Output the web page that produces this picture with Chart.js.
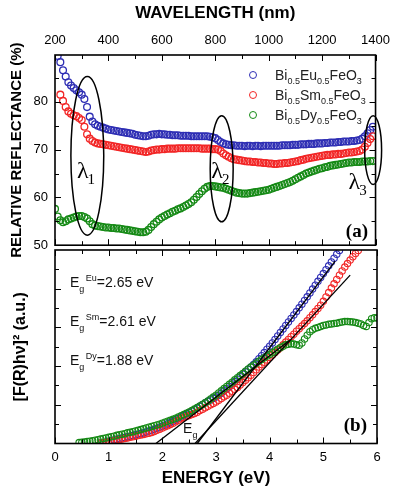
<!DOCTYPE html>
<html><head><meta charset="utf-8">
<script src="https://cdn.jsdelivr.net/npm/chart.js@4.4.1/dist/chart.umd.min.js"></script>
<style>
html,body{margin:0;padding:0;background:#fff;width:397px;height:492px;overflow:hidden;}
#ca{position:absolute;left:0;top:0;}
#cb{position:absolute;left:0;top:240px;}
</style></head><body>
<canvas id="ca" width="397" height="260"></canvas>
<canvas id="cb" width="397" height="252"></canvas>
<script>
// ---------- DATA: panel (a) reflectance vs wavelength ----------
const wavelengths = [
 200,210,220,230,240,250,260,270,280,290,
 300,310,320,330,340,350,360,370,380,390,
 400,410,420,430,440,450,460,470,480,490,
 500,510,520,530,540,550,560,570,580,590,
 600,610,620,630,640,650,660,670,680,690,
 700,710,720,730,740,750,760,770,780,790,
 800,810,820,830,840,850,860,870,880,890,
 900,910,920,930,940,950,960,970,980,990,
 1000,1010,1020,1030,1040,1050,1060,1070,1080,1090,
 1100,1110,1120,1130,1140,1150,1160,1170,1180,1190,
 1200,1210,1220,1230,1240,1250,1260,1270,1280,1290,
 1300,1310,1320,1330,1340,1350,1360,1370,1380,1390];
const reflEu = [
 null,89.6,88.3,86.6,85.3,84.1,83.4,82.9,82.4,82.0,
 81.5,80.6,78.9,76.9,75.9,75.3,75.0,74.8,74.6,74.4,
 74.2,74.1,74.0,73.9,73.8,73.7,73.6,73.5,73.4,73.3,
 73.1,73.0,72.9,72.8,72.8,72.9,73.1,73.2,73.2,73.3,
 73.2,73.2,73.1,73.1,73.0,73.0,73.0,72.9,72.9,72.9,
 72.9,72.8,72.8,72.8,72.8,72.8,72.8,72.8,72.7,72.6,
 72.4,72.0,71.6,71.3,71.1,71.0,70.9,70.9,70.8,70.8,
 70.8,70.7,70.8,70.8,70.7,70.8,70.8,70.7,70.8,70.8,
 70.8,70.8,70.8,70.8,70.8,70.9,70.9,70.9,70.9,71.0,
 71.0,71.0,71.1,71.1,71.1,71.2,71.2,71.2,71.3,71.3,
 71.3,71.4,71.4,71.5,71.5,71.5,71.6,71.6,71.7,71.7,
 71.7,71.8,71.8,71.9,72.0,72.3,72.8,73.4,74.1,74.8];
const reflSm = [
 null,null,81.5,80.2,78.9,78.0,77.5,77.2,77.0,76.6,
 76.2,74.8,73.2,72.3,71.8,71.5,71.3,71.2,71.1,71.0,
 70.9,70.8,70.7,70.6,70.5,70.4,70.3,70.2,70.1,70.0,
 69.9,69.8,69.7,69.6,69.5,69.6,69.8,69.9,70.0,70.0,
 70.1,70.1,70.2,70.2,70.2,70.2,70.3,70.3,70.3,70.3,
 70.3,70.3,70.3,70.3,70.3,70.2,70.2,70.2,70.2,70.1,
 70.1,70.0,69.7,69.2,68.8,68.5,68.2,68.0,67.9,67.8,
 67.7,67.6,67.5,67.5,67.4,67.4,67.3,67.3,67.2,67.2,
 67.1,67.1,67.0,67.0,67.1,67.1,67.2,67.2,67.3,67.4,
 67.5,67.6,67.8,67.9,68.1,68.2,68.3,68.4,68.5,68.6,
 68.7,68.8,68.9,68.9,69.0,69.0,69.1,69.1,69.2,69.3,
 69.4,69.4,69.5,69.6,69.7,70.0,70.6,71.4,72.2,72.8];
const reflDy = [
 57.6,56.0,55.2,54.8,55.0,55.4,55.6,55.8,56.0,56.1,
 56.1,55.9,55.6,55.0,54.4,54.1,54.0,53.9,53.8,53.7,
 53.7,53.6,53.6,53.5,53.5,53.4,53.3,53.2,53.1,53.0,
 52.9,52.8,52.7,52.7,52.8,53.2,53.8,54.4,54.9,55.4,
 55.8,56.1,56.4,56.7,57.0,57.2,57.5,57.7,58.0,58.3,
 58.6,59.0,59.5,60.1,60.7,61.3,61.8,62.2,62.4,62.4,
 62.3,62.2,62.1,62.0,61.8,61.6,61.4,61.2,61.0,60.9,
 60.8,60.8,60.8,60.9,61.0,61.1,61.2,61.3,61.4,61.5,
 61.6,61.8,62.0,62.2,62.4,62.6,62.8,63.0,63.2,63.5,
 63.8,64.1,64.4,64.7,65.0,65.2,65.4,65.6,65.8,66.0,
 66.1,66.3,66.4,66.6,66.7,66.8,66.9,67.0,67.1,67.2,
 67.3,67.3,67.4,67.4,67.4,67.5,67.5,67.5,67.6,67.6];
const wlTicks = [200,400,600,800,1000,1200,1400];
const wlMinorTicks = [300,500,700,900,1100,1300];
const reflTicks = [50,60,70,80];
const reflMinorTicks = [55,65,75,85];

// ---------- DATA: panel (b) [F(R)hv]^2 vs energy ----------
const energies = [
 0.45,0.50,0.55,0.60,0.65,0.70,0.75,0.80,0.85,0.90,
 0.95,1.00,1.05,1.10,1.15,1.20,1.25,1.30,1.35,1.40,
 1.45,1.50,1.55,1.60,1.65,1.70,1.75,1.80,1.85,1.90,
 1.95,2.00,2.05,2.10,2.15,2.20,2.25,2.30,2.35,2.40,
 2.45,2.50,2.55,2.60,2.65,2.70,2.75,2.80,2.85,2.90,
 2.95,3.00,3.05,3.10,3.15,3.20,3.25,3.30,3.35,3.40,
 3.45,3.50,3.55,3.60,3.65,3.70,3.75,3.80,3.85,3.90,
 3.95,4.00,4.05,4.10,4.15,4.20,4.25,4.30,4.35,4.40,
 4.45,4.50,4.55,4.60,4.65,4.70,4.75,4.80,4.85,4.90,
 4.95,5.00,5.05,5.10,5.15,5.20,5.25,5.30,5.35,5.40,
 5.45,5.50,5.55,5.60,5.65,5.70,5.75,5.80,5.85,5.90,
 5.95,6.00];
const kmDy = [
 0.05,0.06,0.08,0.10,0.12,0.14,0.17,0.20,0.23,0.26,
 0.29,0.32,0.35,0.38,0.42,0.45,0.48,0.51,0.55,0.58,
 0.61,0.65,0.68,0.72,0.76,0.80,0.84,0.88,0.92,0.96,
 1.00,1.05,1.10,1.15,1.20,1.25,1.31,1.37,1.43,1.50,
 1.56,1.63,1.70,1.78,1.86,1.94,2.02,2.10,2.20,2.30,
 2.40,2.50,2.61,2.72,2.84,2.95,3.06,3.17,3.29,3.40,
 3.51,3.62,3.74,3.85,3.95,4.05,4.15,4.25,4.34,4.43,
 4.52,4.60,4.69,4.78,4.87,4.95,5.03,5.10,5.13,5.15,
 5.14,5.10,5.08,5.20,5.40,5.60,5.78,5.88,5.95,6.00,
 6.05,6.10,6.13,6.16,6.18,6.20,6.22,6.25,6.28,6.30,
 6.30,6.29,6.28,6.25,6.22,6.18,6.10,6.05,6.25,6.45,
 6.50,6.48];
const kmSm = [
 null,null,null,null,null,null,null,null,0.02,0.04,
 0.06,0.08,0.11,0.14,0.17,0.20,0.23,0.26,0.29,0.32,
 0.35,0.38,0.41,0.44,0.47,0.50,0.53,0.57,0.62,0.68,
 0.74,0.80,0.86,0.92,0.98,1.05,1.12,1.20,1.28,1.35,
 1.40,1.45,1.50,1.55,1.62,1.70,1.77,1.85,1.92,2.00,
 2.07,2.15,2.23,2.32,2.41,2.50,2.60,2.70,2.80,2.90,
 3.02,3.15,3.27,3.40,3.53,3.67,3.81,3.95,4.08,4.20,
 4.32,4.45,4.58,4.70,4.83,4.95,5.10,5.24,5.38,5.52,
 5.65,5.80,5.93,6.07,6.20,6.34,6.50,6.65,6.82,6.98,
 7.15,7.35,7.57,7.80,8.03,8.25,8.48,8.70,8.92,9.12,
 9.30,9.48,9.65,9.82,9.98,null,null,null,null,null,
 null,null];
const kmEu = [
 null,null,null,null,null,null,null,null,0.03,0.05,
 0.08,0.12,0.15,0.18,0.22,0.25,0.28,0.31,0.35,0.38,
 0.41,0.45,0.48,0.52,0.56,0.60,0.64,0.68,0.73,0.79,
 0.84,0.90,0.96,1.02,1.08,1.15,1.22,1.30,1.37,1.45,
 1.52,1.60,1.67,1.75,1.83,1.92,2.01,2.10,2.18,2.25,
 2.33,2.40,2.50,2.60,2.72,2.83,2.95,3.08,3.20,3.32,
 3.45,3.58,3.70,3.83,3.95,4.08,4.22,4.38,4.54,4.70,
 4.87,5.03,5.20,5.38,5.56,5.74,5.92,6.10,6.28,6.46,
 6.64,6.82,7.01,7.20,7.39,7.58,7.78,7.98,8.18,8.38,
 8.58,8.78,8.98,9.18,9.38,9.58,9.78,9.98,null,null,
 null,null,null,null,null,null,null,null,null,null,
 null,null];
// tangent (Tauc) fit lines: end points
const fitEnergyEu = [2.65, 5.22], fitValueEu = [0, 9.43];
const fitEnergySm = [2.61, 5.50], fitValueSm = [0, 8.70];
const fitEnergyDy = [1.88, 4.38], fitValueDy = [0, 5.35];
const bandGapNames = ['Eu','Sm','Dy'];
const bandGapValues = ['2.65','2.61','1.88'];
const energyTicks = [0,1,2,3,4,5,6];
const energyMinorTicks = [0.5,1.5,2.5,3.5,4.5,5.5];
const kmTicks = [2,4,6,8];
const kmMinorTicks = [1,3,5,7,9];
const seriesNames = ['Bi0.5Eu0.5FeO3','Bi0.5Sm0.5FeO3','Bi0.5Dy0.5FeO3'];

// ---------- STYLE ----------
const SANS = '"Liberation Sans", Arial, sans-serif';
const SERIF = '"Liberation Serif", "Times New Roman", serif';
const COL = {eu:'#2e2eb4', sm:'#f22626', dy:'#168a16'};
// ellipses: centre (wavelength, reflectance) and half-axes in data units
const ellipses = [
  {wl:321, r:68.7, dw:61.5, dr:16.6, sub:'1', lw:282, lr:64.0},
  {wl:824, r:66.0, dw:43,   dr:11.1, sub:'2', lw:785, lr:64.0},
  {wl:1391,r:69.9, dw:31.7, dr:7.2,  sub:'3', lw:1299,lr:61.7}
];

function pts(xs, ys){ const o=[]; xs.forEach((x,i)=>{ if(ys[i]!==null) o.push({x:x,y:ys[i]}); }); return o; }
function scatterDs(label, data, color, order, r, bw){
  return {label, data, borderColor:color, backgroundColor:'rgba(0,0,0,0)', pointRadius:r, pointBorderWidth:bw, pointStyle:'circle', order};
}
function drawTicks(chart, xMaj, xMin, yMaj, yMin){
  const ctx = chart.ctx, a = chart.chartArea, xs = chart.scales.x, ys = chart.scales.y;
  ctx.save();
  ctx.strokeStyle = '#000'; ctx.lineWidth = 1;
  ctx.beginPath();
  const vx = (v, L) => { const p = Math.round(xs.getPixelForValue(v)) + 0.5; ctx.moveTo(p, a.top); ctx.lineTo(p, a.top + L); ctx.moveTo(p, a.bottom); ctx.lineTo(p, a.bottom - L); };
  const vy = (v, L) => { const p = Math.round(ys.getPixelForValue(v)) + 0.5; ctx.moveTo(a.left, p); ctx.lineTo(a.left + L, p); ctx.moveTo(a.right, p); ctx.lineTo(a.right - L, p); };
  xMaj.forEach(v => vx(v, 6)); xMin.forEach(v => vx(v, 4));
  yMaj.forEach(v => vy(v, 6)); yMin.forEach(v => vy(v, 4));
  ctx.stroke();
  ctx.lineWidth = 1.6;
  ctx.strokeRect(a.left, a.top, a.right - a.left, a.bottom - a.top);
  ctx.restore();
}
function rich(ctx, parts, x, y, mainPx, subPx){
  let cx = x;
  parts.forEach(([t, m]) => {
    ctx.font = (m === 0 ? mainPx : subPx) + 'px ' + SANS;
    const dy = m === 1 ? 4 : (m === 2 ? -6 : 0);
    ctx.fillText(t, cx, y + dy);
    cx += ctx.measureText(t).width;
  });
}
function formulaParts(name){
  const out = []; const re = /([A-Za-z]+)|([0-9.]+)/g; let m;
  while ((m = re.exec(name))) out.push(m[1] ? [m[1],0] : [m[2],1]);
  return out;
}

const decoA = {
  id:'decoA',
  afterDraw(chart){
    const ctx = chart.ctx, xs = chart.scales.x, ys = chart.scales.y;
    drawTicks(chart, wlTicks, wlMinorTicks, reflTicks, reflMinorTicks);
    ctx.save();
    ctx.strokeStyle = '#000'; ctx.lineWidth = 1.5;
    ellipses.forEach(e => {
      const cx = xs.getPixelForValue(e.wl), cy = ys.getPixelForValue(e.r);
      const rx = Math.abs(xs.getPixelForValue(e.wl + e.dw) - cx), ry = Math.abs(ys.getPixelForValue(e.r + e.dr) - cy);
      ctx.beginPath(); ctx.ellipse(cx, cy, rx, ry, 0, 0, Math.PI*2); ctx.stroke();
      const lx = xs.getPixelForValue(e.lw), ly = ys.getPixelForValue(e.lr);
      ctx.fillStyle = '#000'; ctx.textBaseline = 'alphabetic'; ctx.textAlign = 'left';
      ctx.font = '24px ' + SERIF; ctx.fillText('\u03bb', lx, ly);
      const w = ctx.measureText('\u03bb').width;
      ctx.font = '15px ' + SERIF; ctx.fillText(e.sub, lx + w - 1, ly + 6);
    });
    const cols = [COL.eu, COL.sm, COL.dy];
    seriesNames.forEach((n, i) => {
      const y = 75 + i * 20;
      ctx.strokeStyle = cols[i]; ctx.lineWidth = 1;
      ctx.beginPath(); ctx.arc(253, y, 3.5, 0, Math.PI*2); ctx.stroke();
      ctx.fillStyle = '#222'; ctx.textAlign = 'left'; ctx.textBaseline = 'alphabetic';
      rich(ctx, formulaParts(n), 275, y + 5, 14, 9);
    });
    ctx.fillStyle = '#000'; ctx.textAlign = 'right';
    ctx.font = 'bold 19px ' + SERIF; ctx.fillText('(a)', 368, 237);
    ctx.restore();
  }
};
const OFF = 240; // page y of canvas b
const decoB = {
  id:'decoB',
  afterDraw(chart){
    const ctx = chart.ctx;
    drawTicks(chart, energyTicks, energyMinorTicks, kmTicks, kmMinorTicks);
    ctx.save();
    ctx.fillStyle = '#111'; ctx.textAlign = 'left'; ctx.textBaseline = 'alphabetic';
    bandGapNames.forEach((n, i) => {
      const y = 287 + i * 39 - OFF;
      let x = 70;
      ctx.font = '14px ' + SANS; ctx.fillText('E', x, y); x += ctx.measureText('E').width;
      ctx.font = '9px ' + SANS; ctx.fillText('g', x, y + 5); x += ctx.measureText('g').width + 1.5;
      ctx.fillText(n, x, y - 6); x += ctx.measureText(n).width;
      ctx.font = '14px ' + SANS; ctx.fillText('=' + bandGapValues[i] + ' eV', x, y);
    });
    ctx.font = '14px ' + SANS; ctx.fillText('E', 183, 433 - OFF);
    ctx.font = '9px ' + SANS; ctx.fillText('g', 192.5, 438 - OFF);
    ctx.fillStyle = '#000'; ctx.textAlign = 'right';
    ctx.font = 'bold 19px ' + SERIF; ctx.fillText('(b)', 367, 431 - OFF);
    ctx.restore();
  }
};

const tickFont = {family:SANS, size:13};
new Chart(document.getElementById('ca'), {
  type:'scatter',
  data:{datasets:[
    scatterDs('Eu', pts(wavelengths, reflEu), COL.eu, 3, 3.4, 1.3),
    scatterDs('Sm', pts(wavelengths, reflSm), COL.sm, 2, 3.4, 1.3),
    scatterDs('Dy', pts(wavelengths, reflDy), COL.dy, 1, 3.4, 1.3)
  ]},
  options:{
    responsive:false, animation:false, events:[],
    layout:{padding:{left:0, right:20, top:0, bottom:10}},
    plugins:{legend:{display:false}, tooltip:{enabled:false}},
    scales:{
      x:{type:'linear', position:'top', min:200, max:1400,
         afterBuildTicks:s=>{ s.ticks = wlTicks.map(v=>({value:v})); },
         afterFit:s=>{ s.height = 55; },
         grid:{display:false, drawTicks:false}, border:{display:false},
         ticks:{color:'#000', font:tickFont, padding:7, maxRotation:0, autoSkip:false, callback:v=>String(v)},
         title:{display:true, text:'WAVELENGTH (nm)', color:'#000', font:{family:SANS, size:17, weight:'bold'}, padding:{top:3, bottom:0}}},
      y:{type:'linear', position:'left', min:50, max:89.8,
         afterBuildTicks:s=>{ s.ticks = reflTicks.map(v=>({value:v})); },
         afterFit:s=>{ s.width = 55; },
         grid:{display:false, drawTicks:false}, border:{display:false},
         ticks:{color:'#000', font:tickFont, padding:7, callback:v=>String(v)},
         title:{display:true, text:'RELATIVE REFLECTANCE (%)', color:'#000', font:{family:SANS, size:15, weight:'bold'}, padding:{top:8, bottom:0}}}
    }
  },
  plugins:[decoA]
});

new Chart(document.getElementById('cb'), {
  type:'scatter',
  data:{datasets:[
    {type:'line', label:'fitEu', data:pts(fitEnergyEu, fitValueEu), borderColor:'#000', borderWidth:1.3, pointRadius:0, showLine:true, fill:false, order:0},
    {type:'line', label:'fitSm', data:pts(fitEnergySm, fitValueSm), borderColor:'#000', borderWidth:1.3, pointRadius:0, showLine:true, fill:false, order:0},
    {type:'line', label:'fitDy', data:pts(fitEnergyDy, fitValueDy), borderColor:'#000', borderWidth:1.3, pointRadius:0, showLine:true, fill:false, order:0},
    scatterDs('Eu', pts(energies, kmEu), COL.eu, 3, 3.2, 1.1),
    scatterDs('Sm', pts(energies, kmSm), COL.sm, 2, 3.2, 1.1),
    scatterDs('Dy', pts(energies, kmDy), COL.dy, 1, 3.2, 1.1)
  ]},
  options:{
    responsive:false, animation:false, events:[],
    layout:{padding:{left:0, right:20, top:10, bottom:0}},
    plugins:{legend:{display:false}, tooltip:{enabled:false}},
    scales:{
      x:{type:'linear', position:'bottom', min:0, max:6,
         afterBuildTicks:s=>{ s.ticks = energyTicks.map(v=>({value:v})); },
         afterFit:s=>{ s.height = 48.5; },
         grid:{display:false, drawTicks:false}, border:{display:false},
         ticks:{color:'#000', font:tickFont, padding:6, maxRotation:0, autoSkip:false, callback:v=>String(v)},
         title:{display:true, text:'ENERGY (eV)', color:'#000', font:{family:SANS, size:17, weight:'bold'}, padding:{top:0, bottom:3}}},
      y:{type:'linear', position:'left', min:0, max:10,
         afterFit:s=>{ s.width = 55; },
         grid:{display:false, drawTicks:false}, border:{display:false},
         ticks:{display:false},
         title:{display:true, text:'[F(R)h\u03bd]\u00b2 (a.u.)', color:'#000', font:{family:SANS, size:16, weight:'bold'}, padding:{top:11, bottom:0}}}
    }
  },
  plugins:[decoB]
});
</script></body></html>
